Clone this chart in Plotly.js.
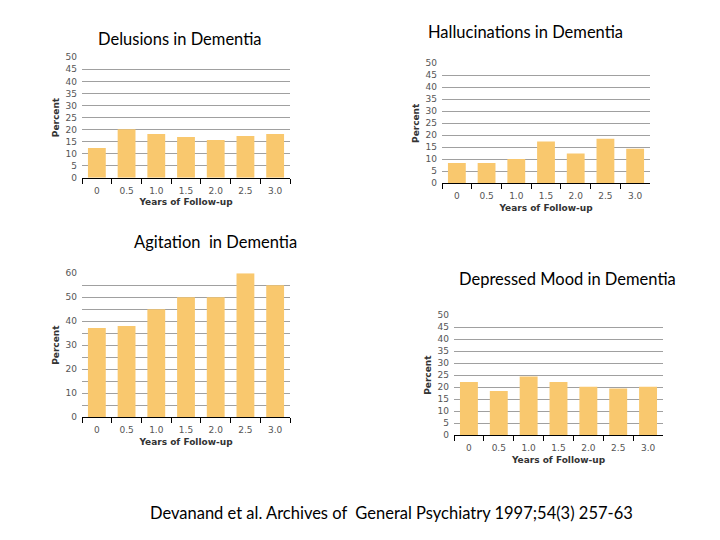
<!DOCTYPE html>
<html>
<head>
<meta charset="utf-8">
<script src="https://cdn.plot.ly/plotly-3.0.1.min.js"></script>
<style>html,body{margin:0;padding:0;background:#fff;}#chart{width:720px;height:540px;}</style>
</head>
<body>
<div id="chart"></div>
<script>
var years = ["0", "0.5", "1.0", "1.5", "2.0", "2.5", "3.0"];
var delusions = [12.3, 20.1, 18.1, 16.9, 15.7, 17.3, 18.1];
var hallucinations = [8.5, 8.5, 10.1, 17.4, 12.4, 18.6, 14.4];
var agitation = [37.2, 38.0, 45.0, 50.0, 50.0, 60.0, 55.0];
var depressed = [22.1, 18.4, 24.4, 22.1, 20.2, 19.4, 20.2];
var titles = ["Delusions in Dementia", "Hallucinations in Dementia", "Agitation  in Dementia", "Depressed Mood in Dementia"];
var citation = "Devanand et al. Archives of  General Psychiatry 1997;54(3) 257-63";
var yTitle = "Percent";
var xTitle = "Years of Follow-up";

var W = 720, H = 540;
var barColor = "#F9C86E";
var series = [delusions, hallucinations, agitation, depressed];
// pixel boxes [left, right, top, bottom]
var boxes = [[82, 290, 57.3, 177.7], [442, 650, 63.3, 183.3], [82, 290, 273.3, 417], [454, 663, 315.3, 435]];
var ranges = [[0, 50], [0, 50], [0, 60], [0, 50]];
var titlePos = [[180, 39], [525, 32], [215, 242], [567, 279]];

var tickFont = {family: "DejaVu Sans", size: 9, color: "#555"};
var axTitleFont = {family: "DejaVu Sans", size: 9, color: "#333", weight: "bold"};

var data = [];
var layout = {
  width: W, height: H,
  margin: {l: 0, r: 0, t: 0, b: 0},
  paper_bgcolor: "#fff", plot_bgcolor: "rgba(0,0,0,0)",
  showlegend: false,
  bargap: 0.4,
  annotations: []
};

for (var i = 0; i < 4; i++) {
  var sfx = i === 0 ? "" : String(i + 1);
  data.push({
    type: "bar", x: years, y: series[i],
    xaxis: "x" + sfx, yaxis: "y" + sfx,
    marker: {color: barColor, line: {width: 0}},
    hoverinfo: "skip"
  });
  var b = boxes[i];
  var yax = {
    domain: [1 - b[3] / H, 1 - b[2] / H],
    range: ranges[i],
    anchor: "x" + sfx,
    dtick: i === 2 ? 10 : 5,
    tick0: 0,
    showgrid: true, gridcolor: "#A0A0A0", gridwidth: 1,
    zeroline: false, showline: false,
    ticks: "", ticklen: 0,
    tickfont: tickFont,
    ticklabelstandoff: 4,
    title: {text: yTitle, font: axTitleFont, standoff: 4}
  };
  if (i === 2) {
    yax.minor = {dtick: 5, showgrid: true, gridcolor: "#A0A0A0", gridwidth: 1};
  }
  var xax = {
    domain: [b[0] / W, b[1] / W],
    anchor: "y" + sfx,
    type: "category",
    showline: true, linecolor: "#000", linewidth: 1,
    ticks: "outside", tickson: "boundaries", ticklen: 5, tickcolor: "#000",
    showgrid: false, zeroline: false,
    tickfont: tickFont,
    ticklabelstandoff: 4,
    title: {text: xTitle, font: axTitleFont, standoff: 4}
  };
  layout["xaxis" + sfx] = xax;
  layout["yaxis" + sfx] = yax;
  layout.annotations.push({
    text: titles[i], xref: "paper", yref: "paper",
    x: titlePos[i][0] / W, y: 1 - titlePos[i][1] / H,
    xanchor: "center", yanchor: "middle", showarrow: false,
    font: {family: "Lato", size: 16.5, color: "#000"}
  });
}
layout.annotations.push({
  text: citation, xref: "paper", yref: "paper",
  x: 392 / W, y: 1 - 513 / H, xanchor: "center", yanchor: "middle",
  showarrow: false, font: {family: "Lato", size: 16.5, color: "#000"}
});

Plotly.newPlot("chart", data, layout, {displayModeBar: false, staticPlot: true});
</script>
</body>
</html>
